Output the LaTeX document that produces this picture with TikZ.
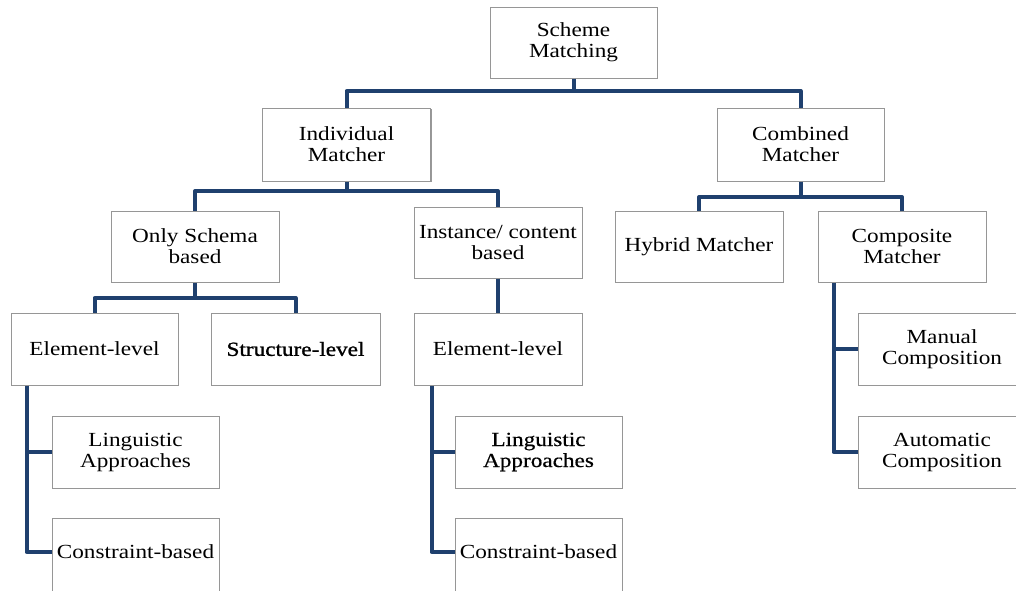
\documentclass[tikz,border=0pt]{standalone}
\usepackage{fontspec}
\setmainfont{Liberation Serif}[FakeStretch=1.16]
\newfontfamily\boldishfont{Liberation Serif}[FakeStretch=1.16,FakeBold=1.1]
\newfontfamily\semiboldfont{Liberation Serif}[FakeStretch=1.16,FakeBold=0.5]
\usetikzlibrary{shadows}
\definecolor{navy}{RGB}{31,64,110}
\definecolor{boxgray}{RGB}{150,150,150}
\tikzset{
  box/.style={draw=boxgray, fill=white, line width=1pt, minimum width=168pt,
    minimum height=71pt, inner sep=0pt, align=center,
    font=\fontsize{20}{21}\selectfont,
    drop shadow={shadow xshift=1pt, shadow yshift=-1pt, fill=black!40, opacity=1}},
  tallbox/.style={box, minimum height=0pt, text height=40pt, text depth=42pt, anchor=north},
  conn/.style={draw=navy, line width=4pt, line join=round}
}
\begin{document}
\begin{tikzpicture}[x=1pt,y=-1pt]
\useasboundingbox (0,0) rectangle (1016,590);
% level 0
\node[box, minimum width=167pt] (sm) at (573.5,42.5) {Scheme\\Matching};
% level 1
\node[box, minimum height=73pt] (im) at (346.5,144.5) {Individual\\Matcher};
\node[box, minimum width=167pt, minimum height=73pt] (cm) at (800.5,144.5) {Combined\\Matcher};
% level 2
\node[box] (os) at (195,246.5) {Only Schema\\based};
\node[box] (ic) at (498,242.5) {Instance/ content\\based};
\node[box] (hm) at (699,246.5) {Hybrid Matcher};
\node[box] (cp) at (902,246.5) {Composite\\Matcher};
% level 3
\node[box, minimum width=167pt, minimum height=72pt] (el1) at (94.5,349) {Element-level};
\node[box, minimum width=169pt, minimum height=72pt] (sl) at (295.5,349) {\boldishfont Structure-level};
\node[box, minimum height=72pt] (el2) at (498,349) {Element-level};
\node[box, minimum height=72pt] (mc) at (942,349) {Manual\\Composition};
% level 4
\node[box, minimum width=167pt, minimum height=72pt] (la1) at (135.5,452) {Linguistic\\Approaches};
\node[tallbox, minimum width=167pt] (cb1) at (135.5,518) {Constraint-based};
\node[box, minimum width=167pt, minimum height=72pt] (la2) at (538.5,452) {\semiboldfont Linguistic\\\semiboldfont Approaches};
\node[tallbox, minimum width=167pt] (cb2) at (538.5,518) {Constraint-based};
\node[box, minimum height=72pt] (ac) at (942,452) {Automatic\\Composition};
% junctions
\coordinate (j0) at (573.5,91);
\coordinate (j1) at (346.5,191);
\coordinate (j2) at (800.5,197);
\coordinate (j3) at (195,298);
\coordinate (t1) at ([xshift=16pt]el1.south west);
\coordinate (t2) at ([xshift=18pt]el2.south west);
\coordinate (t3) at ([xshift=16pt]cp.south west);
% connectors
\draw[conn] (sm.south) -- (j0);
\draw[conn] (im.north) |- (j0) -| (cm.north);
\draw[conn] (im.south) -- (j1);
\draw[conn] (os.north) |- (j1) -| (ic.north);
\draw[conn] (cm.south) -- (j2);
\draw[conn] (hm.north) |- (j2) -| (cp.north);
\draw[conn] (os.south) -- (j3);
\draw[conn] (el1.north) |- (j3) -| (sl.north);
\draw[conn] (ic.south) -- (el2.north);
\draw[conn] (t1) |- ([yshift=-34pt]cb1.north west);
\draw[conn] (t1 |- la1.west) -- (la1.west);
\draw[conn] (t2) |- ([yshift=-34pt]cb2.north west);
\draw[conn] (t2 |- la2.west) -- (la2.west);
\draw[conn] (t3) |- (ac.west);
\draw[conn] (t3 |- mc.west) -- (mc.west);
\end{tikzpicture}
\end{document}
